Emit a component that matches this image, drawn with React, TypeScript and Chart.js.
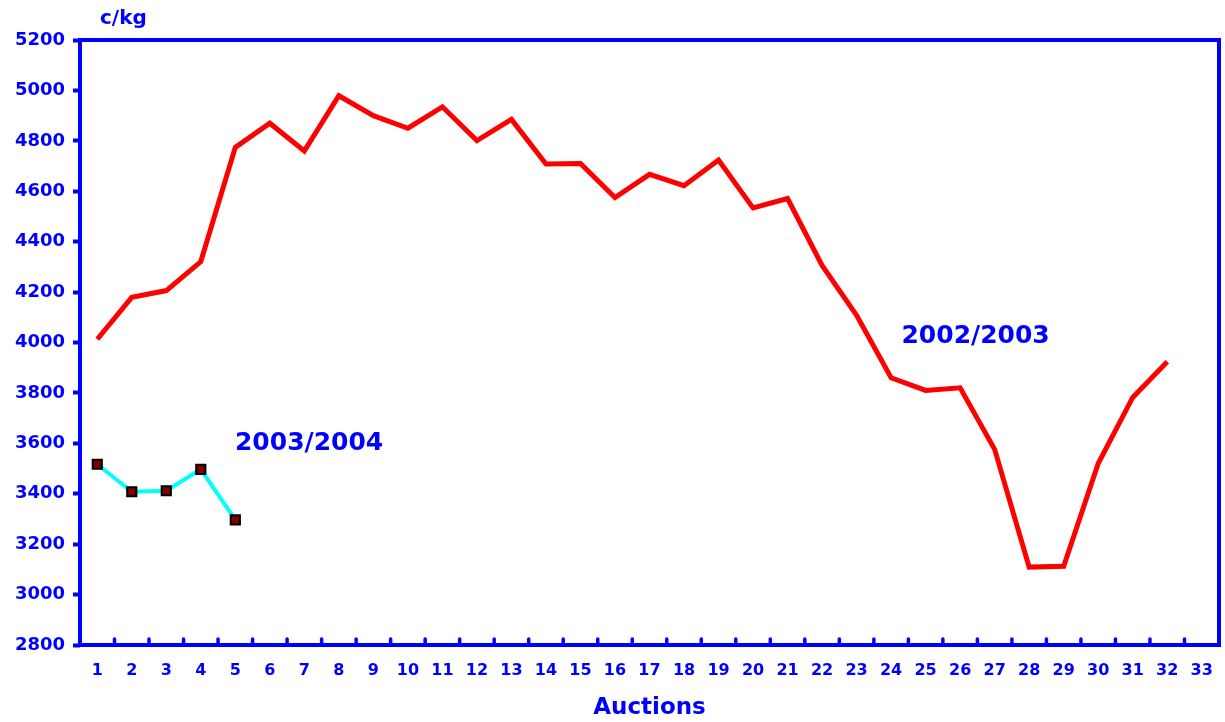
import React, { useEffect, useRef } from 'react';
import { Chart, registerables } from 'chart.js';

Chart.register(...registerables);

const auctions = ['1','2','3','4','5','6','7','8','9','10','11','12','13','14','15','16','17','18','19','20','21','22','23','24','25','26','27','28','29','30','31','32','33'];

const season0203 = [4013, 4179, 4206, 4321, 4774, 4870, 4760, 4979, 4900, 4850, 4935, 4801, 4885, 4708, 4710, 4575, 4667, 4622, 4724, 4534, 4571, 4306, 4108, 3860, 3810, 3820, 3576, 3109, 3112, 3520, 3782, 3924];

const season0304 = [3517, 3408, 3412, 3497, 3296];

const yTicks = { min: 2800, max: 5200, step: 200 };

const annotations = [
  { text: '2002/2003', x: 23.3, y: 4022 },
  { text: '2003/2004', x: 3.99, y: 3601 },
];

const BLUE = '#0000FF';
const FONT = '"DejaVu Sans", Verdana, sans-serif';

const framePlugin = {
  id: 'framePlugin',
  afterDatasetsDraw(chart: any) {
    const { ctx, chartArea, scales } = chart;
    const { left, right, top, bottom } = chartArea;
    const x = scales.x;
    const y = scales.y;
    ctx.save();
    ctx.strokeStyle = BLUE;
    ctx.lineWidth = 4;
    ctx.strokeRect(left, top, right - left, bottom - top);
    ctx.lineCap = 'round';
    ctx.lineWidth = 3.5;
    for (let i = 1; i < auctions.length; i++) {
      const px = (x.getPixelForTick(i - 1) + x.getPixelForTick(i)) / 2;
      ctx.beginPath();
      ctx.moveTo(px, bottom);
      ctx.lineTo(px, bottom - 6);
      ctx.stroke();
    }
    ctx.fillStyle = BLUE;
    ctx.font = `bold 25px ${FONT}`;
    ctx.textAlign = 'left';
    ctx.textBaseline = 'middle';
    for (const a of annotations) {
      ctx.fillText(a.text, x.getPixelForValue(a.x), y.getPixelForValue(a.y));
    }
    ctx.font = `bold 20px ${FONT}`;
    ctx.fillText('c/kg', left + 20, top - 21);
    ctx.restore();
  },
};

export default function App() {
  const ref = useRef<HTMLCanvasElement | null>(null);
  useEffect(() => {
    if (!ref.current) return;
    const chart = new Chart(ref.current, {
      type: 'line',
      data: {
        labels: auctions,
        datasets: [
          {
            label: '2002/2003',
            data: season0203,
            borderColor: '#FF0000',
            borderWidth: 5,
            pointRadius: 0,
            tension: 0,
            fill: false,
          },
          {
            label: '2003/2004',
            data: season0304,
            borderColor: '#00FFFF',
            borderWidth: 4,
            pointStyle: 'rect',
            pointRadius: 6.5,
            pointBackgroundColor: '#800000',
            pointBorderColor: '#000000',
            pointBorderWidth: 2,
            tension: 0,
            fill: false,
          },
        ],
      },
      options: {
        animation: false,
        responsive: false,
        layout: { autoPadding: false, padding: { top: 40, right: 6, bottom: 0, left: 0 } },
        plugins: { legend: { display: false }, tooltip: { enabled: false } },
        scales: {
          x: {
            type: 'category',
            offset: true,
            grid: { display: false },
            border: { display: false },
            ticks: { color: BLUE, font: { family: FONT, weight: 'bold', size: 16 }, padding: 8, maxRotation: 0, autoSkip: false },
            title: { display: true, text: 'Auctions', color: BLUE, font: { family: FONT, weight: 'bold', size: 23 }, padding: { top: 0, bottom: 0 } },
            afterFit(scale: any) { scale.height = 77; scale.paddingLeft = 0; scale.paddingRight = 0; },
          },
          y: {
            min: yTicks.min,
            max: yTicks.max,
            grid: { drawOnChartArea: false, drawTicks: true, tickLength: 7, tickColor: BLUE, tickWidth: 4 },
            border: { display: false },
            ticks: { stepSize: yTicks.step, color: BLUE, font: { family: FONT, weight: 'bold', size: 18 }, padding: 8, callback: (v: any) => String(v) },
            afterFit(scale: any) { scale.width = 80; scale.paddingTop = 0; scale.paddingBottom = 0; },
          },
        },
      },
      plugins: [framePlugin],
    } as any);
    return () => chart.destroy();
  }, []);
  return (
    <div style={{ position: 'absolute', left: 0, top: 0, width: 1225, height: 722, background: '#fff' }}>
      <canvas ref={ref} width={1225} height={722} style={{ display: 'block' }} />
    </div>
  );
}
